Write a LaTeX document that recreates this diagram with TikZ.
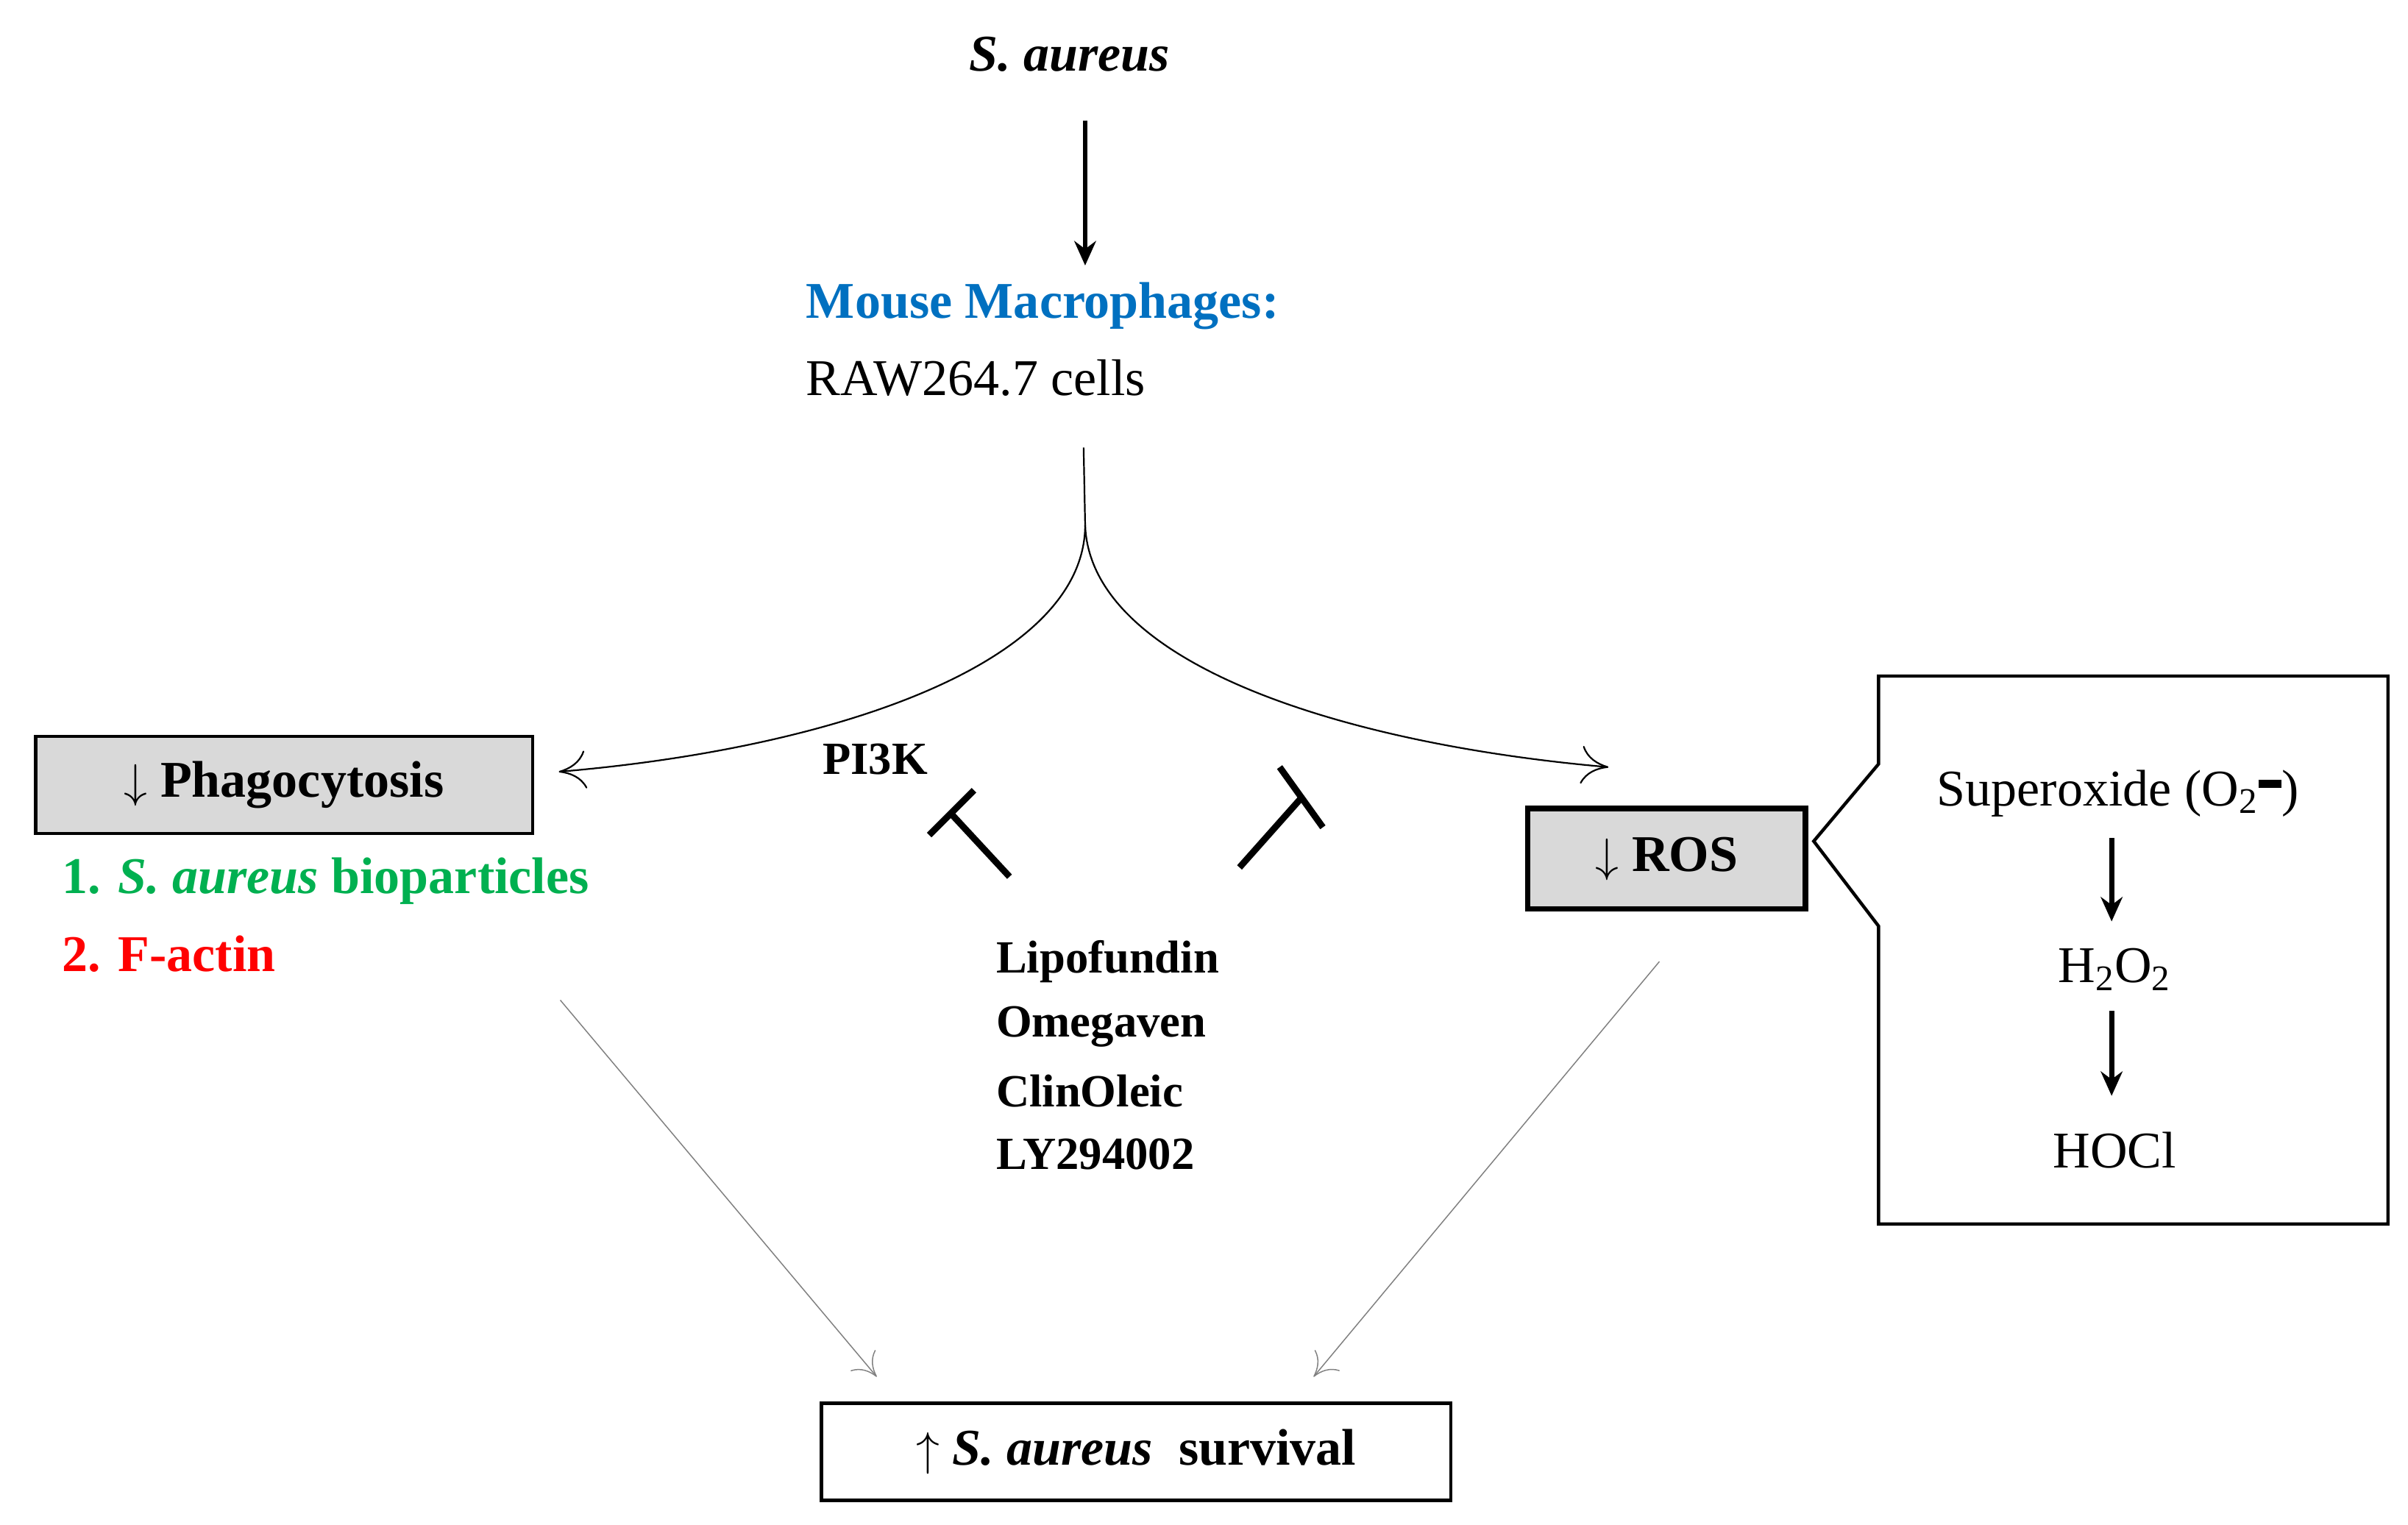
\documentclass[tikz,border=0pt]{standalone}
\usepackage{fontspec}
\setmainfont{Liberation Serif}
\usetikzlibrary{arrows.meta}
\definecolor{mblue}{RGB}{0,112,192}
\definecolor{mgreen}{RGB}{0,176,80}
\definecolor{boxgray}{RGB}{217,217,217}
\begin{document}
\begin{tikzpicture}[x=0.02cm,y=-0.02cm,
  txt/.style={font=\fontsize{19}{23}\selectfont, inner sep=0pt},
  bx/.style={draw, line width=1.2pt, fill=boxgray},
  thinarr/.style={-{To[length=10pt,width=14pt]}, line width=0.6pt},
  grayarr/.style={-{To[length=8pt,width=12pt]}, line width=0.4pt, draw=gray},
  downarr/.style={-{Stealth[length=9pt,width=8pt]}, line width=1.8pt},
  tbar/.style={line width=2.4pt}]
\useasboundingbox (0,0) rectangle (1560,988);
\node[txt, font=\fontsize{19}{23}\selectfont\bfseries\itshape] (sa) at (693,35) {S. aureus};
\coordinate (a1) at (703,78); \coordinate (a2) at (703,172);
\draw[downarr] (a1) -- (a2);
\node[txt, anchor=west, text=mblue, font=\fontsize{19}{23}\selectfont\bfseries] (mm) at (522,198) {Mouse Macrophages:};
\node[txt, anchor=west] (raw) at (522,245) {RAW264.7 cells};
\coordinate (s0) at (702,290); \coordinate (s1) at (703,340);
\coordinate (lt) at (362,500); \coordinate (rt) at (1042,497);
\draw[line width=0.6pt] (s0) -- (s1);
\draw[thinarr] (s1) .. controls (703,430) and (540,485) .. (lt);
\draw[thinarr] (s1) .. controls (706,430) and (870,482) .. (rt);
\node[bx, minimum width=322\pgflinewidth, anchor=north west, minimum width=6.44cm, minimum height=1.26cm] (ph) at (22,476) {};
\node[txt, font=\fontsize{19}{23}\selectfont\bfseries] (pht) at (ph.center) {$\downarrow$ Phagocytosis};
\node[txt, anchor=west, text=mgreen, font=\fontsize{19}{23}\selectfont\bfseries] (g1) at (40,571) {1. \textit{S. aureus} bioparticles};
\node[txt, anchor=west, text=red, font=\fontsize{19}{23}\selectfont\bfseries] (g2) at (40,618) {2. F-actin};
\node[txt, font=\fontsize{17}{20}\selectfont\bfseries] (pi) at (567,492) {PI3K};
\coordinate (l1) at (654,568); \coordinate (l2) at (616,527);
\coordinate (lb1) at (602,541); \coordinate (lb2) at (631,512);
\draw[tbar] (l1) -- (l2); \draw[tbar] (lb1) -- (lb2);
\coordinate (r1) at (803,562); \coordinate (r2) at (843,517);
\coordinate (rb1) at (829,497); \coordinate (rb2) at (857,536);
\draw[tbar] (r1) -- (r2); \draw[tbar] (rb1) -- (rb2);
\node[txt, anchor=west, font=\fontsize{17}{20}\selectfont\bfseries, align=left] (d1) at (645,623) {Lipofundin};
\node[txt, anchor=west, font=\fontsize{17}{20}\selectfont\bfseries] (d2) at (645,665) {Omegaven};
\node[txt, anchor=west, font=\fontsize{17}{20}\selectfont\bfseries] (d3) at (645,707) {ClinOleic};
\node[txt, anchor=west, font=\fontsize{17}{20}\selectfont\bfseries] (d4) at (645,748) {LY294002};
\node[bx, line width=2pt, anchor=north west, minimum width=3.6cm, minimum height=1.3cm] (ros) at (988,522) {};
\node[txt, font=\fontsize{19}{23}\selectfont\bfseries] (rost) at (ros.center) {$\downarrow$ ROS};
\draw[line width=1.2pt] (1217,438) coordinate (c1) -- (1547,438) -- (1547,793) -- (1217,793) -- (1217,600) -- (1175,545) -- (1217,495) -- cycle;
\node[txt] (so) at (1372,514) {Superoxide (O\textsubscript{2}\rule[0.35em]{0.45em}{0.15em})};
\node[txt] (h2) at (1370,628) {H\textsubscript{2}O\textsubscript{2}};
\node[txt] (ho) at (1370,745) {HOCl};
\coordinate (b1) at (1368,543); \coordinate (b2) at (1368,597);
\coordinate (b3) at (1368,655); \coordinate (b4) at (1368,710);
\draw[downarr] (b1) -- (b2); \draw[downarr] (b3) -- (b4);
\node[draw, line width=1.2pt, anchor=north west, minimum width=8.16cm, minimum height=1.26cm] (sv) at (531,908) {};
\node[txt, font=\fontsize{19}{23}\selectfont\bfseries] (svt) at (sv.center) {$\uparrow$ \textit{S. aureus}\ \ survival};
\coordinate (g0) at (363,648); \coordinate (g0e) at (568,892);
\coordinate (h0) at (1075,623); \coordinate (h0e) at (851,892);
\draw[grayarr] (g0) -- (g0e);
\draw[grayarr] (h0) -- (h0e);
\end{tikzpicture}
\end{document}
